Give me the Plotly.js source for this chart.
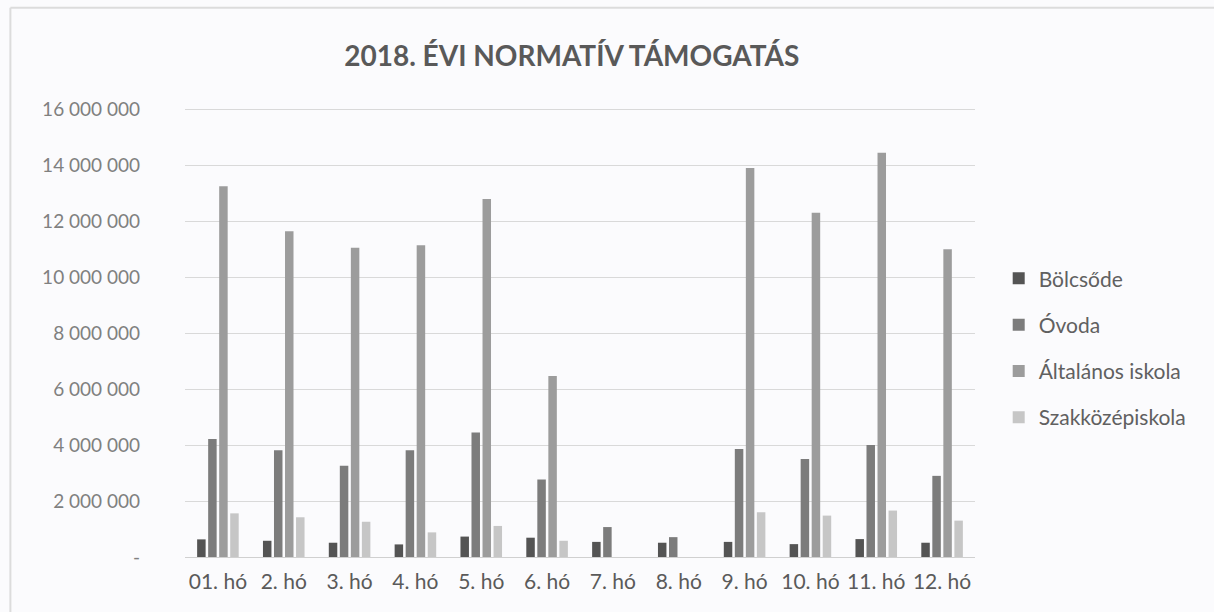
<!DOCTYPE html>
<html>
<head>
<meta charset="utf-8">
<script src="https://cdn.plot.ly/plotly-3.0.1.min.js"></script>
<style>
html,body{margin:0;padding:0;background:#fbfbfd;}
#chart{width:1214px;height:612px;}
</style>
</head>
<body>
<div id="chart"></div>
<script>
const months = ["01. hó","2. hó","3. hó","4. hó","5. hó","6. hó","7. hó","8. hó","9. hó","10. hó","11. hó","12. hó"];
const bolcsode = [630000, 580000, 510000, 450000, 730000, 690000, 540000, 510000, 540000, 460000, 640000, 510000];
const ovoda = [4220000, 3820000, 3260000, 3820000, 4450000, 2770000, 1070000, 710000, 3860000, 3500000, 4000000, 2900000];
const altalanos = [13250000, 11640000, 11050000, 11140000, 12800000, 6470000, null, null, 13900000, 12300000, 14450000, 11000000];
const szakkozep = [1560000, 1420000, 1260000, 880000, 1110000, 580000, null, null, 1600000, 1480000, 1660000, 1300000];
const seriesNames = ["Bölcsőde","Óvoda","Általános iskola","Szakközépiskola"];
const seriesColors = ["#545454","#7c7c7c","#9c9c9c","#c6c6c6"];
const yTickVals = [0,2000000,4000000,6000000,8000000,10000000,12000000,14000000,16000000];
const yTickText = ["-","2 000 000","4 000 000","6 000 000","8 000 000","10 000 000","12 000 000","14 000 000","16 000 000"];

const seriesData = [bolcsode, ovoda, altalanos, szakkozep];
const traces = seriesData.map((d,i)=>({
  type:'bar', x:months, y:d, name:seriesNames[i], legendgroup:'g'+i,
  marker:{color:seriesColors[i]}, hoverinfo:'x+y+name'
}));

const font = "Lato, 'Open Sans', sans-serif";
const layout = {
  width:1214, height:612,
  paper_bgcolor:'#fbfbfd', plot_bgcolor:'#fbfbfd',
  margin:{l:185, r:239, t:106, b:55},
  barmode:'group', bargap:0.33, bargroupgap:0.23,
  title:{text:'<b>2018. ÉVI NORMATÍV TÁMOGATÁS</b>', font:{family:font, size:28, color:'#595959'},
         x:0.471, xanchor:'center', y:0.908, yanchor:'middle'},
  xaxis:{type:'category', showgrid:false, showline:true, linecolor:'#d0d0d0', linewidth:1,
         ticks:'', tickfont:{family:font, size:21, color:'#5a5a5a'}, ticklabelstandoff:6, fixedrange:true},
  yaxis:{range:[0,16120000], tickvals:yTickVals, ticktext:yTickText, showgrid:true, gridcolor:'#d9d9d9',
         gridwidth:1, zeroline:false, showline:false, ticks:'',
         tickfont:{family:font, size:19, color:'#808080'}, ticklabelstandoff:44, fixedrange:true},
  legend:{x:1.03, xanchor:'left', y:0.463, yanchor:'middle', traceorder:'grouped', tracegroupgap:16,
          font:{family:font, size:21, color:'#606060'}, bgcolor:'rgba(0,0,0,0)'},
  shapes:[
    {type:'line', xref:'paper', yref:'paper', x0:-0.221, x1:1.31, y0:1.218, y1:1.218, line:{color:'#dcdcdc', width:2}},
    {type:'line', xref:'paper', yref:'paper', x0:-0.221, x1:-0.221, y0:1.218, y1:-0.13, line:{color:'#dcdcdc', width:2}}
  ],
  showlegend:true
};
Plotly.newPlot('chart', traces, layout, {displayModeBar:false, staticPlot:true});
</script>
</body>
</html>
